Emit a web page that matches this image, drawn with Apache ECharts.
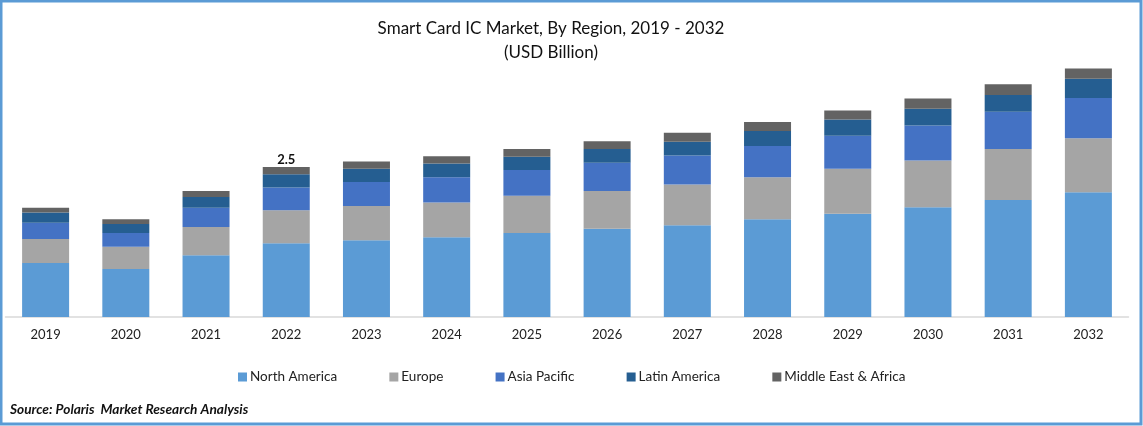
<!DOCTYPE html>
<html lang="en">
<head>
    <meta charset="UTF-8">
    <title>Smart Card IC Market</title>
    <script src="https://cdn.jsdelivr.net/npm/echarts@6/dist/echarts.min.js"></script>
    <style>
        html, body { margin: 0; padding: 0; background: #fff; }
        #main { width: 1143px; height: 426px; }
    </style>
</head>
<body>
    <div id="main"></div>
    <script>
        var years = ['2019', '2020', '2021', '2022', '2023', '2024', '2025', '2026', '2027', '2028', '2029', '2030', '2031', '2032'];

        // values in USD billion
        var northAmerica = [0.90, 0.80, 1.03, 1.23, 1.28, 1.33, 1.40, 1.47, 1.53, 1.63, 1.72, 1.83, 1.95, 2.08];
        var europe = [0.40, 0.37, 0.47, 0.55, 0.57, 0.58, 0.62, 0.63, 0.68, 0.70, 0.75, 0.78, 0.85, 0.90];
        var asiaPacific = [0.27, 0.23, 0.32, 0.38, 0.40, 0.42, 0.43, 0.47, 0.48, 0.52, 0.55, 0.58, 0.62, 0.67];
        var latinAmerica = [0.17, 0.15, 0.18, 0.22, 0.22, 0.23, 0.22, 0.23, 0.23, 0.25, 0.27, 0.28, 0.28, 0.32];
        var middleEast = [0.08, 0.08, 0.10, 0.12, 0.12, 0.12, 0.13, 0.13, 0.15, 0.15, 0.15, 0.17, 0.18, 0.17];

        var labelYear = '2022';
        var labelText = '2.5';

        var fontName = 'Lato';

        function makeSeries(name, values, color) {
            return {
                name: name,
                type: 'bar',
                stack: 'total',
                barWidth: 47,
                data: values,
                itemStyle: { color: color },
                emphasis: { disabled: true }
            };
        }

        var seriesList = [
            makeSeries('North America', northAmerica, '#5B9BD5'),
            makeSeries('Europe', europe, '#A5A5A5'),
            makeSeries('Asia Pacific', asiaPacific, '#4472C4'),
            makeSeries('Latin America', latinAmerica, '#255E91'),
            makeSeries('Middle East & Africa', middleEast, '#636363')
        ];

        // only one total is printed in the chart
        var labelIdx = years.indexOf(labelYear);
        seriesList[4].data = middleEast.map(function (v, i) {
            if (i != labelIdx) return v;
            return {
                value: v,
                label: {
                    show: true,
                    position: 'top',
                    distance: 1,
                    formatter: labelText,
                    fontFamily: fontName,
                    fontWeight: 'bold',
                    fontSize: 13,
                    color: '#111'
                }
            };
        });

        var myChart = echarts.init(document.getElementById('main'));
        myChart.setOption({
            animation: false,
            backgroundColor: '#fff',
            title: {
                text: 'Smart Card IC Market, By Region, 2019 - 2032\n(USD Billion)',
                left: 546,
                top: 12,
                textAlign: 'center',
                textStyle: {
                    fontFamily: fontName,
                    fontWeight: 'normal',
                    fontSize: 17,
                    lineHeight: 24,
                    color: '#111'
                }
            },
            legend: {
                left: 233,
                top: 365,
                itemWidth: 9,
                itemHeight: 9,
                itemGap: 52.2,
                icon: 'rect',
                selectedMode: false,
                textStyle: {
                    fontFamily: fontName,
                    fontSize: 13.5,
                    color: '#222',
                    padding: [0, 0, 0, -2]
                }
            },
            grid: { left: 5.5, right: 14.5, top: 40, bottom: 109 },
            xAxis: {
                type: 'category',
                data: years,
                axisTick: { show: false },
                axisLine: { lineStyle: { color: '#D9D9D9', width: 1.5 } },
                axisLabel: {
                    margin: 11,
                    fontFamily: fontName,
                    fontSize: 13,
                    color: '#222'
                }
            },
            yAxis: {
                type: 'value',
                min: 0,
                max: 4.6166,
                show: false,
                splitLine: { show: false }
            },
            graphic: [
                {
                    type: 'rect',
                    shape: { x: 1, y: 1, width: 1140, height: 423 },
                    style: { fill: 'none', stroke: '#5B9BD5', lineWidth: 3 },
                    silent: true
                },
                {
                    type: 'text',
                    left: 10,
                    top: 403,
                    style: {
                        text: 'Source: Polaris  Market Research Analysis',
                        fontFamily: fontName,
                        fontWeight: 'bold',
                        fontStyle: 'italic',
                        fontSize: 13.7,
                        fill: '#111'
                    },
                    silent: true
                }
            ],
            series: seriesList
        });
    </script>
</body>
</html>
